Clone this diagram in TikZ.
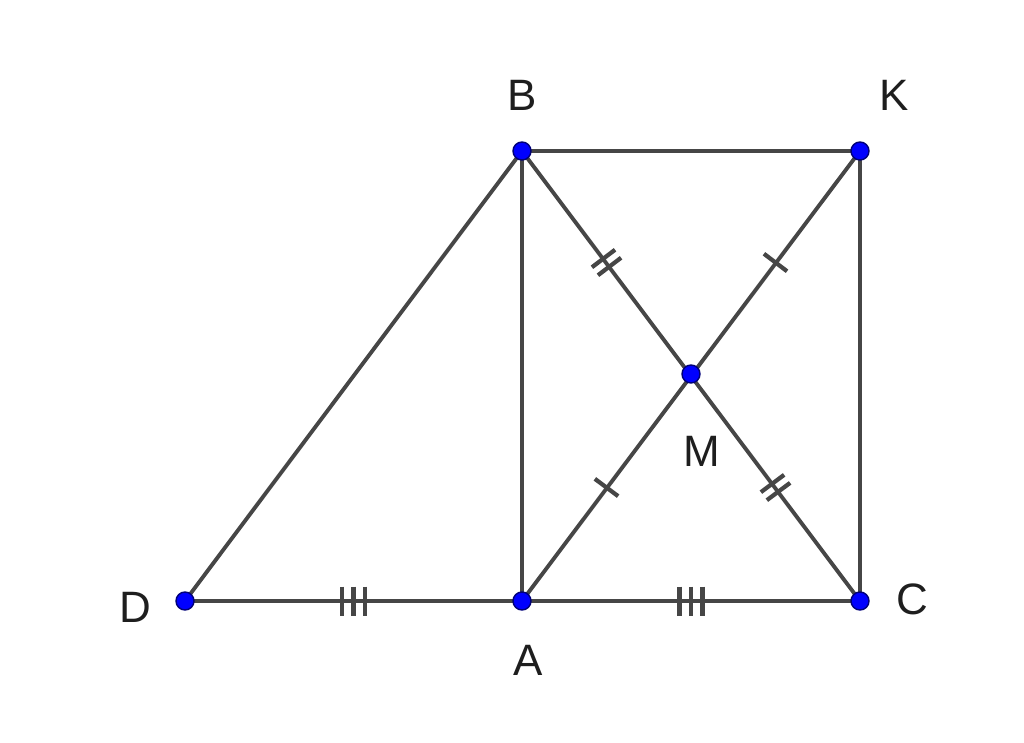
\documentclass[tikz,border=0pt]{standalone}
\usepackage{fontspec}
\setmainfont{Liberation Sans}
\usetikzlibrary{calc}
\begin{document}
\begin{tikzpicture}[x=0.01cm,y=-0.01cm,
  seg/.style={draw={rgb,255:red,70;green,70;blue,70}, line width=1.1pt},
  tick/.style={draw={rgb,255:red,70;green,70;blue,70}, line width=1.2pt},
  pt/.style={circle, fill={rgb,255:red,0;green,0;blue,255}, draw={rgb,255:red,0;green,0;blue,120}, line width=0.4pt, inner sep=0pt, minimum size=0.18cm},
  lbl/.style={font=\fontsize{12.5}{14}\selectfont, text={rgb,255:red,30;green,30;blue,30}}]
\useasboundingbox (0,0) rectangle (1024,742);
\coordinate (B) at (522,151);
\coordinate (K) at (860,151);
\coordinate (D) at (185,601);
\coordinate (A) at (522,601);
\coordinate (C) at (860,601);
\coordinate (M) at (691,374);
\draw[seg] (D) -- (B) -- (K) -- (C) -- (A) -- (D);
\draw[seg] (B) -- (A);
\draw[seg] (B) -- (C);
\draw[seg] (K) -- (A);
% ticks: from, to, offset along (length with unit)
\newcommand{\tk}[3]{%
  \coordinate (t0) at ($($(#1)!0.5!(#2)$)!#3!(#2)$);
  \draw[tick] ($(t0)!0.145cm!90:(#2)$) -- ($(t0)!0.145cm!-90:(#2)$);}
\tk{B}{M}{-0.05cm}\tk{B}{M}{0.05cm}
\tk{M}{C}{-0.05cm}\tk{M}{C}{0.05cm}
\tk{K}{M}{0cm}
\tk{M}{A}{0cm}
\tk{D}{A}{-0.115cm}\tk{D}{A}{0cm}\tk{D}{A}{0.115cm}
\tk{A}{C}{-0.115cm}\tk{A}{C}{0cm}\tk{A}{C}{0.115cm}
\foreach \p in {B,K,D,A,C,M} \node[pt] (n\p) at (\p) {};
\node[lbl] (lB) at (522,95) {B};
\node[lbl] (lK) at (894,95) {K};
\node[lbl] (lD) at (135,607) {D};
\node[lbl] (lA) at (528,660) {A};
\node[lbl] (lC) at (912,599) {C};
\node[lbl] (lM) at (702,451) {M};
\end{tikzpicture}
\end{document}
